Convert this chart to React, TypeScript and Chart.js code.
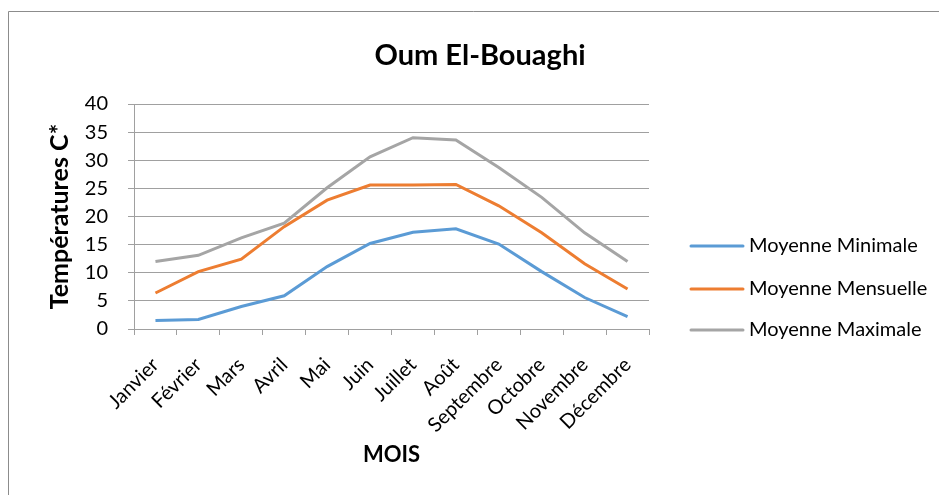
import React, { useEffect, useRef } from "react";
import { Chart, registerables } from "chart.js";

Chart.register(...registerables);

const chartTitle = "Oum El-Bouaghi";
const months = [
  "Janvier", "Février", "Mars", "Avril", "Mai", "Juin",
  "Juillet", "Août", "Septembre", "Octobre", "Novembre", "Décembre",
];
const moyenneMinimale = [1.5, 1.7, 4.0, 5.9, 11.1, 15.2, 17.2, 17.8, 15.1, 10.2, 5.6, 2.2];
const moyenneMensuelle = [6.4, 10.2, 12.4, 18.2, 22.9, 25.6, 25.6, 25.7, 21.9, 17.1, 11.6, 7.1];
const moyenneMaximale = [12.0, 13.1, 16.2, 18.8, 25.1, 30.6, 34.0, 33.6, 28.7, 23.4, 17.1, 12.0];
const seriesNames = ["Moyenne Minimale", "Moyenne Mensuelle", "Moyenne Maximale"];
const yTicks = { min: 0, max: 40, step: 5 };

const FONT = "Lato, 'Liberation Sans', sans-serif";
const GRID = "#a0a0a0";

const framePlugin = {
  id: "frame",
  beforeDraw(chart: any) {
    const { ctx, width, height } = chart;
    ctx.save();
    ctx.fillStyle = "#ffffff";
    ctx.fillRect(0, 0, width, height);
    ctx.strokeStyle = "#8c8c8c";
    ctx.lineWidth = 1;
    ctx.beginPath();
    ctx.moveTo(8.5, height);
    ctx.lineTo(8.5, 11.5);
    ctx.lineTo(width, 11.5);
    ctx.stroke();
    ctx.restore();
  },
  afterDraw(chart: any) {
    const { ctx } = chart;
    ctx.save();
    ctx.fillStyle = "#000";
    ctx.font = `bold 29px ${FONT}`;
    ctx.textAlign = "center";
    ctx.textBaseline = "alphabetic";
    ctx.fillText(chartTitle, 480, 65);
    ctx.restore();
  },
};

const legendPlugin = {
  id: "sideLegend",
  afterDraw(chart: any) {
    const { ctx } = chart;
    const ys = [246, 289, 330];
    ctx.save();
    chart.data.datasets.forEach((ds: any, i: number) => {
      const y = ys[i];
      ctx.strokeStyle = ds.borderColor;
      ctx.lineWidth = 3;
      ctx.lineCap = "round";
      ctx.beginPath();
      ctx.moveTo(691, y);
      ctx.lineTo(743, y);
      ctx.stroke();
      ctx.fillStyle = "#000";
      ctx.font = `20px ${FONT}`;
      ctx.textBaseline = "middle";
      ctx.textAlign = "left";
      ctx.fillText(ds.label, 749, y);
    });
    ctx.restore();
  },
};

export default function App() {
  const ref = useRef<HTMLCanvasElement>(null);

  useEffect(() => {
    if (!ref.current) return;
    const colors = ["#5B9BD5", "#ED7D31", "#A5A5A5"];
    const values = [moyenneMinimale, moyenneMensuelle, moyenneMaximale];
    const chart = new Chart(ref.current, {
      type: "line",
      data: {
        labels: months,
        datasets: values.map((v, i) => ({
          label: seriesNames[i],
          data: v,
          borderColor: colors[i],
          backgroundColor: colors[i],
          borderWidth: 3,
          pointRadius: 0,
          tension: 0,
          fill: false,
        })),
      },
      options: {
        responsive: false,
        animation: false,
        devicePixelRatio: 1,
        layout: { padding: { left: 8, right: 290, top: 104, bottom: 0 } },
        plugins: {
          legend: { display: false },
          tooltip: { enabled: false },
          title: { display: false },
        },
        scales: {
          x: {
            offset: true,
            grid: {
              display: true,
              drawOnChartArea: false,
              drawTicks: true,
              tickLength: 6,
              color: GRID,
              offset: true,
            },
            border: { color: GRID },
            ticks: {
              color: "#000",
              font: { family: FONT, size: 20 },
              maxRotation: 45,
              minRotation: 45,
              padding: 18,
              autoSkip: false,
            },
            title: {
              display: true,
              text: "MOIS",
              color: "#000",
              font: { family: FONT, size: 22, weight: "bold" },
              padding: { top: 0, bottom: 27 },
            },
            afterFit: (s: any) => {
              s.height = 166;
            },
          },
          y: {
            min: yTicks.min,
            max: yTicks.max,
            grid: { color: GRID, tickLength: 6, lineWidth: 1 },
            border: { color: GRID },
            ticks: {
              stepSize: yTicks.step,
              color: "#000",
              font: { family: FONT, size: 20 },
              padding: 20,
            },
            title: {
              display: true,
              text: "Températures C*",
              color: "#000",
              font: { family: FONT, size: 25, weight: "bold" },
              padding: { top: 37, bottom: 0 },
            },
            afterFit: (s: any) => {
              s.width = 126;
            },
          },
        },
      },
      plugins: [framePlugin, legendPlugin],
    } as any);
    return () => chart.destroy();
  }, []);

  return (
    <div style={{ position: "absolute", left: 0, top: 0, width: 939, height: 495 }}>
      <canvas ref={ref} width={939} height={495} style={{ display: "block" }} />
    </div>
  );
}
